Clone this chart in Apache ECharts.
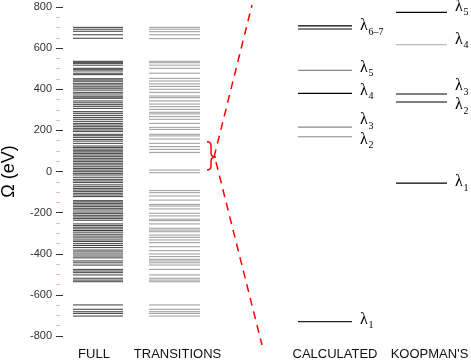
<!DOCTYPE html>
<html><head><meta charset="utf-8">
<script src="https://cdn.jsdelivr.net/npm/echarts@6/dist/echarts.min.js"></script>
<style>html,body{margin:0;padding:0;background:#fff}#c{width:471px;height:362px}</style>
</head><body><div id="c"></div>
<script>
// ---- data (eV) ----
const yTicks = [-800, -600, -400, -200, 0, 200, 400, 600, 800];
const columnNames = ['FULL', 'TRANSITIONS', 'CALCULATED', "KOOPMAN'S"];
const fullLevels = [701, 692, 682, 665, 648,
  536, 531, 526, 517, 502, 497, 489, 478, 471, 451, 445, 439, 429, 421, 412, 405, 396, 385, 377, 367, 362, 356,
  343, 334, 325, 317, 307, 291, 283, 273, 263, 254, 244, 234, 226, 218, 210, 202, 194, 181, 174, 166, 156, 148,
  137, 124, 117, 109, 101, 95, 88, 80, 72, 64, 56, 48, 40, 32, 23, 15, 7, -1, -9, -17, -28, -38,
  -46, -54, -65, -74, -82, -90, -98, -106, -114, -122, -142, -148, -155, -163, -171, -179, -187, -197, -205,
  -213, -221, -229, -237, -255, -263, -271, -279, -287, -295, -305, -314, -323, -333, -341, -351, -360, -370,
  -382, -391, -401, -411, -420, -435, -444, -455, -476, -484, -492, -503, -519, -528, -536,
  -649, -670, -682, -690, -703];
const transitionLevels = [701, 692, 680, 665, 646,
  536, 529, 517, 502, 478, 453, 440, 426, 414, 400, 385, 367, 359,
  343, 328, 315, 302, 288, 280, 267, 254, 234, 215, 205, 181, 173, 158, 137, 121, 108, 93, 7, -6,
  -93, -103, -119, -139, -160, -168, -182, -203, -216, -232, -239, -255, -276, -285, -293, -309, -320,
  -333, -346, -366, -385, -401, -414, -427,
  -435, -444, -455, -476, -503, -519, -528, -536, -649, -670, -682, -690, -703];
const calculatedLevels = [708, 693, 492, 380, 216, 169, -730];
const calculatedLabels = ['6–7', '', '5', '4', '3', '2', '1'];
const koopmansLevels = [774, 617, 377, 338, -57];
const koopmansLabels = ['5', '4', '3', '2', '1'];
const braceRange = [7, 70, 145];          // bottom, tip, top of the selected transitions
const fanEnds = [[70, 810], [46, -844]];  // dashed fan: start value, end value

// ---- styles / layout ----
const calcColors = ['#000', '#000', '#888', '#000', '#888', '#888', '#222'];
const calcNudge = [0, 0, -3, -3, -7, 3, -2];
const koopColors = ['#000', '#bbb', '#000', '#000', '#000'];
const koopNudge = [-6, -5, -8, 3, -1];
const cols = {full: [17, 67], trans: [93, 144], calc: [242, 296], koop: [340, 391]};
const colCenters = [38, 121.5, 279, 373.5];
const serif = 'Liberation Serif';
const sans = 'Liberation Sans';

function levelSeries(levels, ext, color, width, labels, nudge) {
  return {
    type: 'custom', clip: false, silent: true, z: 3,
    data: levels.map((v, i) => [ext[0], v, i]),
    renderItem(params, api) {
      const v = api.value(1), i = api.value(2);
      const p0 = api.coord([ext[0], v]), p1 = api.coord([ext[1], v]);
      const children = [{type: 'line', shape: {x1: p0[0], y1: p0[1], x2: p1[0], y2: p1[1]},
        style: {stroke: typeof color === 'function' ? color(i) : color, lineWidth: width}}];
      if (labels && labels[i]) {
        const lx = p1[0] + 8, ly = p1[1] + nudge[i];
        children.push({type: 'text', x: lx, y: ly, style: {text: 'λ', fill: '#000',
          font: '16px "' + serif + '"', verticalAlign: 'middle', align: 'left'}});
        children.push({type: 'text', x: lx + 8.5, y: ly + 6, style: {text: labels[i], fill: '#000',
          font: '10px "' + serif + '"', verticalAlign: 'middle', align: 'left'}});
      }
      return {type: 'group', children};
    }
  };
}

const chart = echarts.init(document.getElementById('c'), null, {renderer: 'canvas'});
const option = {
  animation: false,
  backgroundColor: '#fff',
  grid: {left: 56, right: 0, top: 7, bottom: 26, containLabel: false, outerBoundsMode: 'none'},
  xAxis: {type: 'value', min: 0, max: 415, show: false},
  yAxis: {
    type: 'value', min: yTicks[0], max: yTicks[yTicks.length - 1], interval: 200,
    name: 'Ω (eV)', nameLocation: 'middle', nameGap: 38, nameRotate: 90,
    nameTextStyle: {fontFamily: sans, fontSize: 18, color: '#000'},
    axisLine: {show: false},
    axisTick: {show: true, inside: true, length: 7, lineStyle: {color: '#333', width: 1}},
    minorTick: {show: true, splitNumber: 4, length: 4, lineStyle: {color: '#e6bcbc', width: 1}},
    splitLine: {show: false},
    axisLabel: {margin: 4, fontFamily: sans, fontSize: 11, color: '#333'}
  },
  series: [
    levelSeries(fullLevels, cols.full, '#3a3a3a', 1),
    levelSeries(transitionLevels, cols.trans, '#9a9a9a', 1),
    levelSeries(calculatedLevels, cols.calc, i => calcColors[i], 1.2, calculatedLabels, calcNudge),
    levelSeries(koopmansLevels, cols.koop, i => koopColors[i], 1.2, koopmansLabels, koopNudge),
    { // dashed fan
      type: 'custom', clip: false, silent: true, z: 4,
      data: fanEnds.map((d, i) => [0, d[0], i]),
      renderItem(params, api) {
        const i = api.value(2);
        const startX = i === 0 ? 158 : 160, endX = i === 0 ? 196 : 206;
        const a = api.coord([startX, fanEnds[i][0]]), b = api.coord([endX, fanEnds[i][1]]);
        return {type: 'line', shape: {x1: a[0], y1: a[1], x2: b[0], y2: b[1]},
          style: {stroke: '#ff0000', lineWidth: 1.5, lineDash: [8, 6]}};
      }
    },
    { // brace
      type: 'custom', clip: false, silent: true, z: 4,
      data: [[151, braceRange[1]]],
      renderItem(params, api) {
        const top = api.coord([151, braceRange[2]]), tip = api.coord([160, braceRange[1]]),
          bot = api.coord([151, braceRange[0]]), mid = api.coord([155, braceRange[1]]);
        const xl = top[0], xm = mid[0], xt = tip[0];
        const yt = top[1], yc = tip[1], yb = bot[1];
        const d = `M${xl} ${yt} Q${xm} ${yt} ${xm} ${yt + 4} L${xm} ${yc - 4} Q${xm} ${yc} ${xt} ${yc}` +
          ` Q${xm} ${yc} ${xm} ${yc + 4} L${xm} ${yb - 4} Q${xm} ${yb} ${xl} ${yb}`;
        return {type: 'path', shape: {pathData: d}, style: {stroke: '#ff0000', lineWidth: 1.5, fill: null}};
      }
    },
    { // column names
      type: 'custom', clip: false, silent: true,
      data: columnNames.map((n, i) => [colCenters[i], yTicks[0], i]),
      renderItem(params, api) {
        const i = api.value(2);
        const p = api.coord([api.value(0), api.value(1)]);
        return {type: 'text', x: p[0], y: p[1] + 18, style: {text: columnNames[i], fill: '#111',
          font: '13px "' + sans + '"', align: 'center', verticalAlign: 'middle'}};
      }
    }
  ]
};
chart.setOption(option);
</script></body></html>
